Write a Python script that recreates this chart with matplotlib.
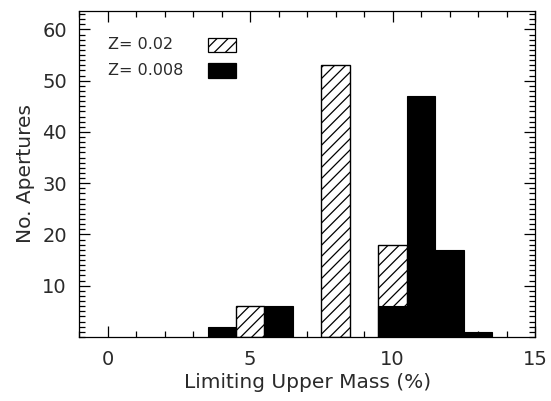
import matplotlib
matplotlib.use("Agg")
import matplotlib.pyplot as plt
from matplotlib.ticker import MultipleLocator
from matplotlib.patches import Rectangle

# Histogram of limiting upper mass, two metallicities (bins of width 1)
z002_x = [5, 8, 10]
z002_n = [6, 53, 18]
z0008_x = [4, 6, 10, 11, 12, 13]
z0008_n = [2, 6, 6, 47, 17, 1]

labels = ['Z= 0.02', 'Z= 0.008']
xticks = [0, 5, 10, 15]
yticks = [10, 20, 30, 40, 50, 60]

plt.rcParams['font.family'] = 'DejaVu Sans'
plt.rcParams['hatch.linewidth'] = 0.9
txt = '#2a2a2a'

fig = plt.figure(figsize=(5.51, 4.01), dpi=100)
ax = fig.add_axes([0.144, 0.1596, 0.827, 0.813])

ax.bar(z002_x, z002_n, width=1.0, color='white', edgecolor='black',
       hatch='///', linewidth=1.0, zorder=2)
ax.bar(z0008_x, z0008_n, width=1.0, color='black', edgecolor='black',
       linewidth=0.8, zorder=3)

ax.set_xlim(-1, 15)
ax.set_ylim(0, 63.6)
ax.set_xticks(xticks)
ax.set_yticks(yticks)
ax.xaxis.set_minor_locator(MultipleLocator(1))
ax.yaxis.set_minor_locator(MultipleLocator(1))
ax.tick_params(which='both', direction='in', top=True, right=True,
               labelsize=14, labelcolor=txt, width=0.9, pad=9)
ax.tick_params(which='major', length=8)
ax.tick_params(which='minor', length=4)
for s in ax.spines.values():
    s.set_linewidth(0.9)

ax.set_xlabel('Limiting Upper Mass (%)', fontsize=14.5, color=txt, labelpad=3)
ax.set_ylabel('No. Apertures', fontsize=14.5, color=txt, labelpad=5)

# hand-made legend like the original
ax.text(0.0, 57.0, labels[0], fontsize=11.5, color=txt, va='center')
ax.text(0.0, 52.0, labels[1], fontsize=11.5, color=txt, va='center')
ax.add_patch(Rectangle((3.5, 55.6), 1.0, 2.8, facecolor='white',
                       edgecolor='black', hatch='///', linewidth=0.9))
ax.add_patch(Rectangle((3.5, 50.5), 1.0, 3.0, facecolor='black',
                       edgecolor='black', linewidth=0.9))

fig.savefig('out.png', dpi=100)
